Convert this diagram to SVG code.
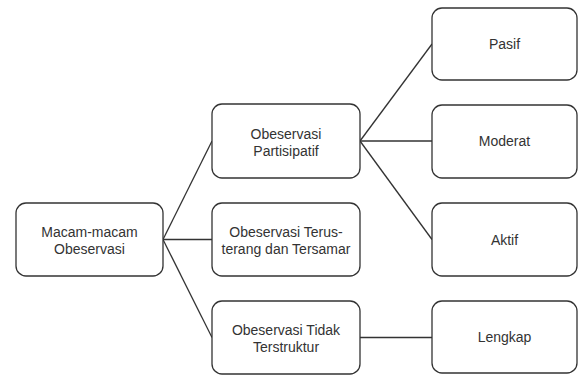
<svg xmlns="http://www.w3.org/2000/svg" width="578" height="376" viewBox="0 0 578 376">
<style>
.box{fill:#fff;stroke:#333;stroke-width:1.3}
.t{font-family:"Liberation Sans",Arial,sans-serif;font-size:14px;fill:#333;text-anchor:middle}
.c{stroke:#333;stroke-width:1.3;fill:none}
</style>
<rect width="578" height="376" fill="#fff"/>
<g id="connectors">
<path class="c" d="M163 239.5L212 141"/>
<path class="c" d="M163 239.5L212 239.5"/>
<path class="c" d="M163 239.5L212 337.5"/>
<path class="c" d="M360 141L432 44"/>
<path class="c" d="M360 141L432 141"/>
<path class="c" d="M360 141L432 239.5"/>
<path class="c" d="M360 337.5L432 337.5"/>
</g>
<g id="root"><rect class="box" x="16" y="203" width="147" height="73" rx="10"/><text class="t" x="89.5" y="236.5">Macam-macam</text><text class="t" x="89.5" y="253.5">Obeservasi</text></g>
<g id="partisipatif"><rect class="box" x="212" y="104" width="148" height="74" rx="10"/><text class="t" x="286" y="138.5">Obeservasi</text><text class="t" x="286" y="155.5">Partisipatif</text></g>
<g id="terus"><rect class="box" x="212" y="203" width="148" height="73" rx="10"/><text class="t" x="286" y="236.5">Obeservasi Terus-</text><text class="t" x="286" y="253.5">terang dan Tersamar</text></g>
<g id="tidak"><rect class="box" x="212" y="301" width="148" height="73" rx="10"/><text class="t" x="286" y="334.5">Obeservasi Tidak</text><text class="t" x="286" y="351.5">Terstruktur</text></g>
<g id="pasif"><rect class="box" x="432" y="8" width="145" height="72" rx="10"/><text class="t" x="504.5" y="49">Pasif</text></g>
<g id="moderat"><rect class="box" x="432" y="105" width="145" height="73" rx="10"/><text class="t" x="504.5" y="146">Moderat</text></g>
<g id="aktif"><rect class="box" x="432" y="203" width="145" height="73" rx="10"/><text class="t" x="504.5" y="244.5">Aktif</text></g>
<g id="lengkap"><rect class="box" x="432" y="301" width="145" height="72" rx="10"/><text class="t" x="504.5" y="342">Lengkap</text></g>
</svg>
